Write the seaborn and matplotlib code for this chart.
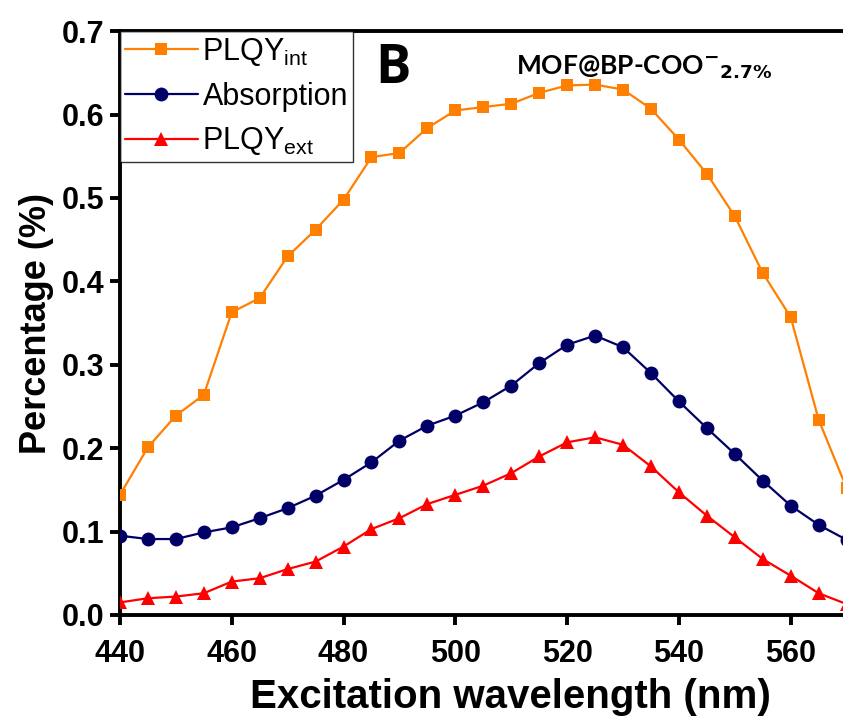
import seaborn as sns
import pandas as pd
import numpy as np
import matplotlib.pyplot as plt

# excitation wavelength (nm)
wavelength = list(range(440, 571, 5))

plqy_int = [0.144, 0.201, 0.239, 0.264, 0.363, 0.380, 0.430, 0.462, 0.498, 0.549,
            0.554, 0.584, 0.605, 0.609, 0.613, 0.626, 0.635, 0.636, 0.630, 0.607,
            0.570, 0.529, 0.478, 0.410, 0.357, 0.234, 0.152]
absorption = [0.095, 0.091, 0.091, 0.099, 0.105, 0.116, 0.128, 0.143, 0.162, 0.183,
              0.209, 0.227, 0.239, 0.255, 0.275, 0.302, 0.324, 0.335, 0.321, 0.290,
              0.256, 0.224, 0.193, 0.161, 0.131, 0.108, 0.090]
plqy_ext = [0.015, 0.020, 0.022, 0.026, 0.040, 0.044, 0.055, 0.064, 0.082, 0.103,
            0.116, 0.133, 0.144, 0.155, 0.170, 0.190, 0.207, 0.213, 0.204, 0.178,
            0.147, 0.119, 0.093, 0.067, 0.047, 0.026, 0.013]

sns.set_style("ticks")
plt.rcParams['font.family'] = ['Liberation Sans', 'DejaVu Sans']
plt.rcParams['mathtext.fontset'] = 'custom'
plt.rcParams['mathtext.rm'] = 'Liberation Sans'
for k in ['text.color', 'axes.labelcolor', 'xtick.color', 'ytick.color', 'axes.edgecolor']:
    plt.rcParams[k] = 'black'

df = pd.DataFrame({"wl": wavelength, "int": plqy_int, "abs": absorption, "ext": plqy_ext})

fig = plt.figure(figsize=(8.43, 7.26), dpi=100)
ax = fig.add_axes([0.1423, 0.153, 0.862, 0.804])

sns.lineplot(data=df, x="wl", y="int", ax=ax, color="#FF8000", marker="s", markersize=9,
             markeredgewidth=0, linewidth=1.6, label=r"PLQY$_{\rm int}$", zorder=3)
sns.lineplot(data=df, x="wl", y="abs", ax=ax, color="#000066", marker="o", markersize=10,
             markeredgewidth=0, linewidth=1.6, label="Absorption", zorder=3)
sns.lineplot(data=df, x="wl", y="ext", ax=ax, color="#FF0000", marker="^", markersize=10.5,
             markeredgewidth=0, linewidth=1.6, label=r"PLQY$_{\rm ext}$", zorder=3)

ax.set_xlim(440, 570)
ax.set_ylim(0, 0.7)
ax.set_xticks([440, 460, 480, 500, 520, 540, 560])
ax.set_yticks(np.arange(0, 0.71, 0.1))
ax.set_yticklabels([f"{v:.1f}" for v in np.arange(0, 0.71, 0.1)])

for s in ax.spines.values():
    s.set_linewidth(2.8)
ax.tick_params(width=2.8, length=7, direction="out", labelsize=22)
ax.tick_params(axis="x", pad=10)
ax.tick_params(axis="y", pad=4)
for lab in ax.get_xticklabels() + ax.get_yticklabels():
    lab.set_fontweight("bold")

ax.set_xlabel("Excitation wavelength (nm)", fontsize=29, fontweight="bold")
ax.xaxis.set_label_coords(0.537, -0.108)
ax.set_ylabel("Percentage (%)", fontsize=26, fontweight="bold", labelpad=6)

leg = ax.legend(loc="upper left", fontsize=22, frameon=True, fancybox=False,
                borderaxespad=0, handlelength=2.4, labelspacing=0.45,
                borderpad=0.15, handletextpad=0.15)
leg.get_frame().set_edgecolor("black")
leg.get_frame().set_linewidth(1.0)

ax.text(0.352, 0.935, "B", transform=ax.transAxes, fontsize=38, fontweight="bold",
        ha="left", va="center", family=["Open Sans", "DejaVu Sans"])
ax.text(0.545, 0.925, r"MOF@BP-COO$^{\mathbf{-}}$$_{\mathbf{2.7\%}}$", transform=ax.transAxes,
        fontsize=19, fontweight="bold", ha="left", va="baseline", family=["Lato", "DejaVu Sans"])

fig.savefig("out.png", dpi=100)
